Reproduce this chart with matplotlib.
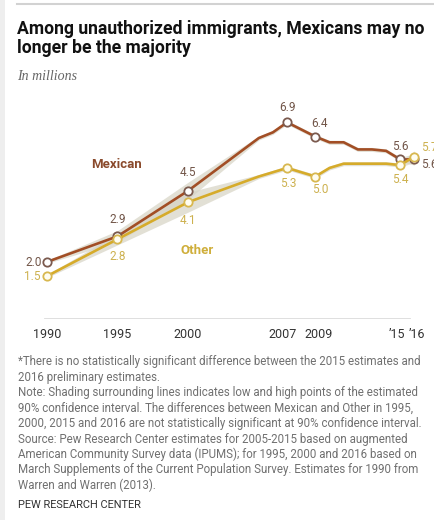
import matplotlib
matplotlib.use("Agg")
import matplotlib.pyplot as plt
import matplotlib.transforms as mtransforms
from matplotlib.patches import Rectangle
from matplotlib.lines import Line2D

# ---------------- data ----------------
years = [1990, 1995, 2000, 2005, 2006, 2007, 2008, 2009, 2010, 2011, 2012, 2013, 2014, 2015, 2016]
mexican = [2.0, 2.9, 4.5, 6.35, 6.55, 6.9, 6.65, 6.4, 6.2, 6.2, 5.95, 5.95, 5.9, 5.6, 5.6]
other = [1.5, 2.8, 4.1, 5.0, 5.15, 5.3, 5.15, 5.0, 5.3, 5.45, 5.45, 5.45, 5.45, 5.4, 5.7]
mexican_lo = [1.95, 2.7, 4.2, 6.28, 6.48, 6.83, 6.58, 6.33, 6.13, 6.13, 5.88, 5.88, 5.83, 5.53, 5.4]
mexican_hi = [2.05, 3.1, 4.8, 6.42, 6.62, 6.97, 6.72, 6.47, 6.27, 6.27, 6.02, 6.02, 5.97, 5.67, 5.8]
other_lo = [1.45, 2.6, 3.75, 4.93, 5.08, 5.23, 5.08, 4.93, 5.23, 5.38, 5.38, 5.38, 5.38, 5.33, 5.5]
other_hi = [1.55, 3.0, 4.45, 5.07, 5.22, 5.37, 5.22, 5.07, 5.37, 5.52, 5.52, 5.52, 5.52, 5.47, 5.9]
labeled_years = [1990, 1995, 2000, 2007, 2009, 2015, 2016]
tick_years = [1990, 1995, 2000, 2007, 2009, 2015, 2016]
tick_labels = ["1990", "1995", "2000", "2007", "2009", "\u201915", "\u201916"]

title = "Among unauthorized immigrants, Mexicans may no\nlonger be the majority"
subtitle = "In millions"
notes = [
    "*There is no statistically significant difference between the 2015 estimates and",
    "2016 preliminary estimates.",
    "Note: Shading surrounding lines indicates low and high points of the estimated",
    "90% confidence interval. The differences between Mexican and Other in 1995,",
    "2000, 2015 and 2016 are not statistically significant at 90% confidence interval.",
    "Source: Pew Research Center estimates for 2005-2015 based on augmented",
    "American Community Survey data (IPUMS); for 1995, 2000 and 2016 based on",
    "March Supplements of the Current Population Survey. Estimates for 1990 from",
    "Warren and Warren (2013).",
]
source = "PEW RESEARCH CENTER"

# ---------------- style ----------------
MEX = "#a24e25"
OTH = "#d6ab2a"
MEX_TXT = "#725649"
OTH_TXT = "#cdb14f"
BAND = "#d6d3c4"
FONT = "Roboto"

W, H = 434, 520
fig = plt.figure(figsize=(W / 100, H / 100), dpi=100)
fig.patch.set_facecolor("white")

# page decorations
fig.patches.append(Rectangle((0, 0), 5 / W, 1, transform=fig.transFigure,
                             facecolor="#eeeeee", edgecolor="none"))
fig.lines.append(Line2D([17 / W, 1], [1 - 4 / H, 1 - 4 / H], transform=fig.transFigure,
                        color="#d2d2d2", lw=1.5))

fig.text(17 / W, 1 - 19.5 / H, title, ha="left", va="top", fontsize=12.7,
         fontweight="bold", family=FONT, color="#111111", linespacing=1.12)
fig.text(17 / W, 1 - 76 / H, subtitle, ha="left", va="center", fontsize=10,
         family="Liberation Serif", style="italic", color="#666666")

ax = fig.add_axes([20 / W, 1 - 319 / H, 414 / W, 224 / H])
ax.set_xlim(1988.11, 2017.39)
ax.set_ylim(0, 7.86)
for s in ax.spines.values():
    s.set_visible(False)
ax.set_yticks([])
ax.set_xticks(tick_years, tick_labels)
ax.tick_params(axis="x", length=0, pad=6.5, labelsize=9, labelcolor="#333333")
tick_shift_px = [0, 0, 0, -4.5, 3, -3, 3]
for t, dx in zip(ax.get_xticklabels(), tick_shift_px):
    t.set_family(FONT)
    t.set_transform(t.get_transform() + mtransforms.ScaledTranslation(dx / 100, 0, fig.dpi_scale_trans))
ax.axhline(0, xmin=(45 - 20) / 414, xmax=(410 - 20) / 414, color="#dcdcdc", lw=1.3)

ax.fill_between(years, mexican_lo, mexican_hi, color=BAND, lw=0, alpha=0.7, zorder=1)
ax.fill_between(years, other_lo, other_hi, color=BAND, lw=0, alpha=0.7, zorder=1)

idx = [years.index(y) for y in labeled_years]
ax.plot(years, mexican, color=MEX, lw=1.9, marker="o", markevery=idx, ms=6,
        mfc="white", mec="#7b5a4e", mew=1.3, zorder=3, clip_on=False)
ax.plot(years, other, color=OTH, lw=1.9, marker="o", markevery=idx, ms=6,
        mfc="#fffdf0", mec="#d8b850", mew=1.3, zorder=4, clip_on=False)

# value labels: (offset in points, ha, va)
mex_lab = {1990: ((-3.6, 0), "right", "center"), 1995: ((0, 12), "center", "center"),
           2000: ((0, 13), "center", "center"), 2007: ((0, 10.8), "center", "center"),
           2009: ((3, 9.5), "center", "center"), 2015: ((0, 9), "center", "center"),
           2016: ((5, -3.4), "left", "center")}
oth_lab = {1990: ((-4.8, 0), "right", "center"), 1995: ((0, -12.6), "center", "center"),
           2000: ((0, -13), "center", "center"), 2007: ((1.2, -11.5), "center", "center"),
           2009: ((3.6, -9.4), "center", "center"), 2015: ((0, -10.6), "center", "center"),
           2016: ((5, 6.5), "left", "center")}
for yr in labeled_years:
    i = years.index(yr)
    off, ha, va = mex_lab[yr]
    ax.annotate(f"{mexican[i]:.1f}", (yr, mexican[i]), xytext=off, textcoords="offset points",
                ha=ha, va=va, fontsize=8.5, family=FONT, color=MEX_TXT, annotation_clip=False)
    off, ha, va = oth_lab[yr]
    ax.annotate(f"{other[i]:.1f}", (yr, other[i]), xytext=off, textcoords="offset points",
                ha=ha, va=va, fontsize=8.5, family=FONT, color=OTH_TXT, annotation_clip=False)

fig.text(116 / W, 1 - 164 / H, "Mexican", ha="center", va="center", fontsize=9.5,
         fontweight="bold", family=FONT, color="#8a4a2c")
fig.text(197 / W, 1 - 250 / H, "Other", ha="center", va="center", fontsize=9.5,
         fontweight="bold", family=FONT, color="#cfae3a")

y0 = 361.5
for k, line in enumerate(notes):
    fig.text(18 / W, 1 - (y0 + k * 15.5) / H, line, ha="left", va="center",
             fontsize=8.3, family=FONT, color="#707070")
fig.text(18 / W, 1 - 505 / H, source, ha="left", va="center", fontsize=7.9,
         family=FONT, color="#333333")

fig.savefig("out.png", dpi=100, facecolor="white")
